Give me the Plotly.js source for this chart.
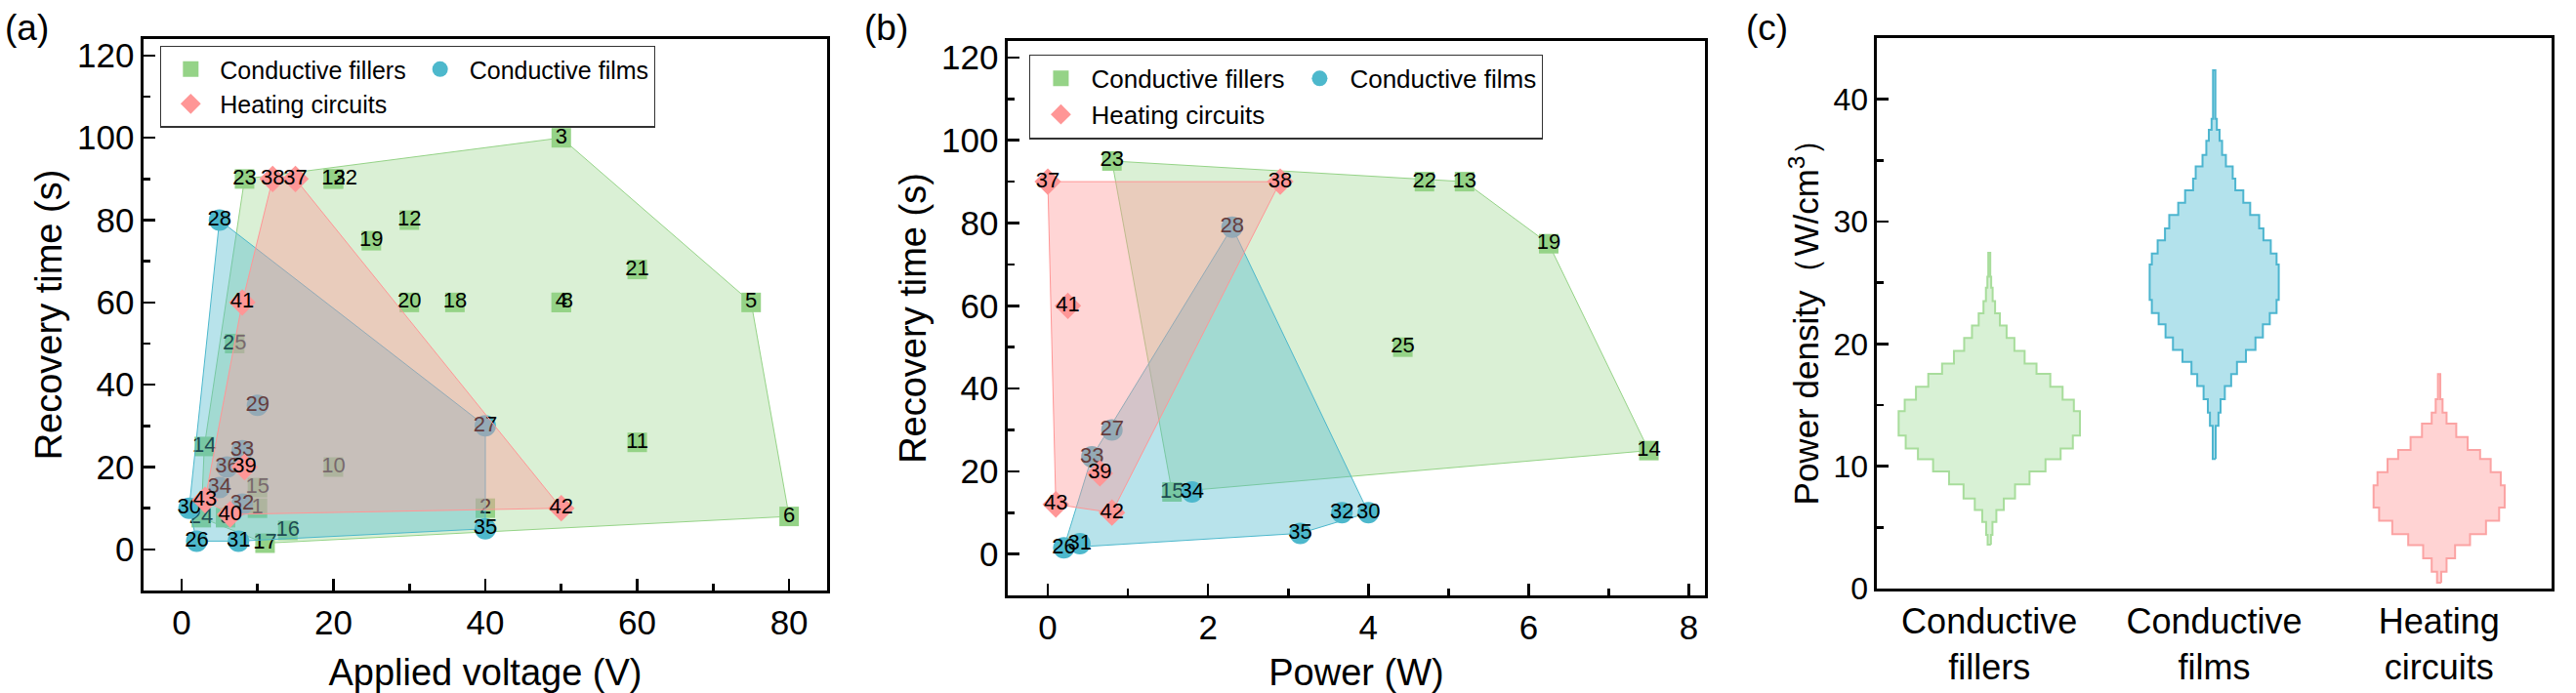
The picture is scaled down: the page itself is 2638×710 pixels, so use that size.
<!DOCTYPE html>
<html>
<head>
<meta charset="utf-8">
<script src="https://cdn.plot.ly/plotly-3.0.1.min.js"></script>
<style>
  html, body { margin: 0; padding: 0; background: #fff; }
  #wrap { position: relative; width: 2638px; height: 710px; overflow: hidden; background: #fff; }
  .panel { position: absolute; top: 0; height: 710px; }
</style>
</head>
<body>
<div id="wrap">
  <div id="pa" class="panel" style="left:0px;width:870px;"></div>
  <div id="pb" class="panel" style="left:880px;width:880px;"></div>
  <div id="pc" class="panel" style="left:1780px;width:858px;"></div>
</div>
<script>
// ---------------- DATA ----------------
// Panel (a): applied voltage (V) vs recovery time (s)
const fillerIdA   = [1, 2, 3, 4, 5, 6, 8, 9, 10, 11, 12, 13, 14, 15, 16, 17, 18, 19, 20, 21, 22, 23, 24, 25];
const fillerVoltA = [10, 40, 50, 50, 75, 80, 50, 5.8, 20, 60, 30, 20, 3, 10, 14, 11, 36, 25, 30, 60, 20, 8.3, 2.6, 7];
const fillerTimeA = [10, 10, 100, 60, 60, 8, 60, 7.7, 20, 26, 80, 90, 25, 15, 4.6, 1.5, 60, 75, 60, 68, 90, 90, 7.7, 50];
const filmIdA     = [26, 27, 28, 29, 30, 31, 32, 33, 34, 35, 36];
const filmVoltA   = [2, 40, 5, 10, 1, 7.5, 8, 8, 5, 40, 6];
const filmTimeA   = [2, 30, 80, 35, 10, 2, 11, 24, 15, 5, 20];
const circuitIdA   = [37, 38, 39, 40, 41, 42, 43];
const circuitVoltA = [15, 12, 8.3, 6.4, 8, 50, 3.1];
const circuitTimeA = [90, 90, 20, 8.5, 60, 10, 12];
// labels in (a) that sit beside a coincident point
const labelRightA = [8, 22];

// Panel (b): power (W) vs recovery time (s)
const fillerIdB   = [13, 14, 15, 19, 22, 23, 25];
const fillerPowB  = [5.2, 7.5, 1.55, 6.25, 4.7, 0.8, 4.43];
const fillerTimeB = [90, 25, 15, 75, 90, 95, 50];
const filmIdB     = [26, 27, 28, 30, 31, 32, 33, 34, 35];
const filmPowB    = [0.2, 0.8, 2.3, 4.0, 0.4, 3.67, 0.55, 1.8, 3.15];
const filmTimeB   = [1.5, 30, 79, 10, 2.5, 10, 23.5, 15, 5];
const circuitIdB   = [37, 38, 39, 41, 42, 43];
const circuitPowB  = [0, 2.9, 0.65, 0.25, 0.8, 0.1];
const circuitTimeB = [90, 90, 19.5, 60, 10, 12];
const labelRightB = [];

// Panel (c): power density (W/cm3) distributions, stepped density profiles
const violinCats = ['Conductive<br>fillers', 'Conductive<br>films', 'Heating<br>circuits'];
const fillerEdges = [3.59, 4.39, 5.45, 6.43, 7.37, 8.51, 9.58, 10.58, 11.44, 12.50, 14.50, 15.43, 16.49, 17.56, 18.40, 19.42, 20.48, 21.5, 22.5, 23.5, 24.6, 25.5, 27.45];
const fillerDens  = [0.018, 0.035, 0.078, 0.16, 0.284, 0.444, 0.62, 0.787, 0.922, 1.0, 0.933, 0.809, 0.673, 0.521, 0.39, 0.277, 0.191, 0.117, 0.064, 0.037, 0.021, 0.011];
const filmEdges = [10.59, 13.30, 14.38, 15.47, 16.55, 17.53, 18.54, 19.51, 20.52, 21.61, 22.51, 23.59, 26.48, 27.38, 28.47, 29.44, 30.53, 31.54, 32.55, 33.52, 34.5, 35.44, 36.6, 37.5, 38.4, 42.37];
const filmDens  = [0.016, 0.047, 0.070, 0.117, 0.187, 0.251, 0.35, 0.455, 0.537, 0.613, 0.688, 0.712, 0.688, 0.624, 0.543, 0.496, 0.397, 0.321, 0.233, 0.204, 0.129, 0.087, 0.059, 0.029, 0.013];
const circuitEdges = [0.48, 1.38, 2.47, 3.55, 4.45, 5.54, 6.62, 8.43, 9.51, 10.59, 11.32, 12.39, 13.48, 14.38, 15.47, 17.53];
const circuitDens  = [0.023, 0.082, 0.176, 0.341, 0.517, 0.662, 0.723, 0.68, 0.569, 0.452, 0.315, 0.189, 0.082, 0.038, 0.013];

// ---------------- STYLE ----------------
const FONT = 'Liberation Sans, Arial, Helvetica, sans-serif';
const GREEN = '#95D387', BLUE = '#4DB8CC', RED = '#FF9696';
const GREEN_F = 'rgba(149,211,135,0.35)', BLUE_F = 'rgba(77,184,204,0.40)', RED_F = 'rgba(255,150,150,0.40)';

function hull(xs, ys) {
  const pts = xs.map((x, i) => [x, ys[i]]).sort((a, b) => a[0] - b[0] || a[1] - b[1]);
  const cross = (o, a, b) => (a[0] - o[0]) * (b[1] - o[1]) - (a[1] - o[1]) * (b[0] - o[0]);
  const lower = [], upper = [];
  for (const p of pts) {
    while (lower.length >= 2 && cross(lower[lower.length - 2], lower[lower.length - 1], p) <= 0) lower.pop();
    lower.push(p);
  }
  for (let i = pts.length - 1; i >= 0; i--) {
    const p = pts[i];
    while (upper.length >= 2 && cross(upper[upper.length - 2], upper[upper.length - 1], p) <= 0) upper.pop();
    upper.push(p);
  }
  const h = lower.slice(0, -1).concat(upper.slice(0, -1));
  h.push(h[0]);
  return { x: h.map(p => p[0]), y: h.map(p => p[1]) };
}

function group(ids, xs, ys, color, fill, symbol, size, name, rightIds) {
  const h = hull(xs, ys);
  return [
    { type: 'scatter', mode: 'lines', x: h.x, y: h.y, fill: 'toself', fillcolor: fill,
      line: { color: color, width: 1 }, showlegend: false, hoverinfo: 'skip' },
    { type: 'scatter', mode: 'markers', x: xs, y: ys, name: name,
      marker: { symbol: symbol, size: size, color: color, line: { width: 0 } } },
    { type: 'scatter', mode: 'text', x: xs, y: ys, text: ids.map(String), showlegend: false,
      textposition: ids.map(id => rightIds.includes(id) ? 'middle right' : 'middle center'),
      textfont: { family: FONT, size: 22, color: 'black' }, hoverinfo: 'skip' }
  ];
}

function axis(extra) {
  return Object.assign({
    showline: true, linecolor: 'black', linewidth: 2.6, mirror: true,
    ticks: 'inside', ticklen: 12, tickwidth: 2.6, tickcolor: 'black',
    showgrid: false, zeroline: false,
    tickfont: { family: FONT, size: 35, color: 'black' }
  }, extra);
}
function minor(d) { return { ticks: 'inside', ticklen: 7, tickwidth: 2.6, tickcolor: 'black', dtick: d, showgrid: false }; }

const cfg = { displayModeBar: false, staticPlot: true };

// ---------------- PANEL (a) ----------------
const tracesA = [].concat(
  group(fillerIdA, fillerVoltA, fillerTimeA, GREEN, GREEN_F, 'square', 20, 'Conductive fillers', labelRightA),
  group(filmIdA, filmVoltA, filmTimeA, BLUE, BLUE_F, 'circle', 22, 'Conductive films', labelRightA),
  group(circuitIdA, circuitVoltA, circuitTimeA, RED, RED_F, 'diamond', 21, 'Heating circuits', labelRightA)
);
Plotly.newPlot('pa', tracesA, {
  width: 870, height: 710, margin: { l: 147, r: 23, t: 40, b: 105 },
  paper_bgcolor: 'white', plot_bgcolor: 'white',
  font: { family: FONT, color: 'black' },
  xaxis: axis({ range: [-5, 85], dtick: 20, tick0: 0, minor: minor(10),
    title: { text: 'Applied voltage (V)', font: { family: FONT, size: 38 } } }),
  yaxis: axis({ range: [-10, 124], dtick: 20, tick0: 0, minor: minor(10), automargin: true,
    title: { text: 'Recovery time (s)', font: { family: FONT, size: 38 }, standoff: 4 } }),
  legend: { orientation: 'h', x: 0.0243, y: 0.988, xanchor: 'left', yanchor: 'top',
    font: { family: FONT, size: 25, color: 'black' }, itemwidth: 50,
    bordercolor: '#333', borderwidth: 1.3, bgcolor: 'white' },
  annotations: [{ text: '(a)', xref: 'paper', yref: 'paper', x: -0.1714, y: 1.0195,
    xanchor: 'center', yanchor: 'middle', showarrow: false, font: { family: FONT, size: 37, color: 'black' } }]
}, cfg);

// ---------------- PANEL (b) ----------------
const tracesB = [].concat(
  group(fillerIdB, fillerPowB, fillerTimeB, GREEN, GREEN_F, 'square', 20, 'Conductive fillers', labelRightB),
  group(filmIdB, filmPowB, filmTimeB, BLUE, BLUE_F, 'circle', 22, 'Conductive films', labelRightB),
  group(circuitIdB, circuitPowB, circuitTimeB, RED, RED_F, 'diamond', 21, 'Heating circuits', labelRightB)
);
Plotly.newPlot('pb', tracesB, {
  width: 880, height: 710, margin: { l: 152, r: 11, t: 42, b: 100 },
  paper_bgcolor: 'white', plot_bgcolor: 'white',
  font: { family: FONT, color: 'black' },
  xaxis: axis({ range: [-0.5, 8.2], dtick: 2, tick0: 0, minor: minor(1),
    title: { text: 'Power (W)', font: { family: FONT, size: 38 } } }),
  yaxis: axis({ range: [-10, 124], dtick: 20, tick0: 0, minor: minor(10), automargin: true,
    title: { text: 'Recovery time (s)', font: { family: FONT, size: 38 }, standoff: 4 } }),
  legend: { orientation: 'h', x: 0.031, y: 0.976, xanchor: 'left', yanchor: 'top',
    font: { family: FONT, size: 26, color: 'black' }, itemwidth: 52,
    bordercolor: '#333', borderwidth: 1.3, bgcolor: 'white' },
  annotations: [{ text: '(b)', xref: 'paper', yref: 'paper', x: -0.1743, y: 1.0229,
    xanchor: 'center', yanchor: 'middle', showarrow: false, font: { family: FONT, size: 37, color: 'black' } }]
}, cfg);

// ---------------- PANEL (c) ----------------
function stepViolin(center, edges, dens, scale, line, fill) {
  const xs = [], ys = [];
  for (let i = 0; i < dens.length; i++) {
    const w = dens[i] * scale;
    xs.push(center + w, center + w); ys.push(edges[i], edges[i + 1]);
  }
  for (let i = dens.length - 1; i >= 0; i--) {
    const w = dens[i] * scale;
    xs.push(center - w, center - w); ys.push(edges[i + 1], edges[i]);
  }
  xs.push(xs[0]); ys.push(ys[0]);
  return { type: 'scatter', mode: 'lines', x: xs, y: ys, fill: 'toself', fillcolor: fill,
    line: { color: line, width: 2 }, showlegend: false, hoverinfo: 'skip' };
}
const W = 0.403;
const tracesC = [
  stepViolin(0, fillerEdges, fillerDens, W, '#A8DD9C', '#D8F1D5'),
  stepViolin(1, filmEdges, filmDens, W, '#4DB5CF', '#B3E2EC'),
  stepViolin(2, circuitEdges, circuitDens, W, '#FBA3A3', '#FFD3D3')
];
Plotly.newPlot('pc', tracesC, {
  width: 858, height: 710, margin: { l: 142, r: 25, t: 39, b: 107 },
  paper_bgcolor: 'white', plot_bgcolor: 'white',
  font: { family: FONT, color: 'black' },
  showlegend: false,
  xaxis: axis({ range: [-0.5, 2.5], tickvals: [0, 1, 2], ticktext: violinCats, ticks: '',
    tickfont: { family: FONT, size: 36, color: 'black' } }),
  yaxis: axis({ range: [0, 45], dtick: 10, tick0: 0, minor: minor(5), automargin: true,
    tickfont: { family: FONT, size: 32, color: 'black' },
    title: { text: 'Power density（W/cm<sup>3</sup>）', font: { family: FONT, size: 35 }, standoff: 4 } }),
  annotations: [{ text: '(c)', xref: 'paper', yref: 'paper', x: -0.1633, y: 1.0195,
    xanchor: 'center', yanchor: 'middle', showarrow: false, font: { family: FONT, size: 37, color: 'black' } }]
}, cfg);
</script>
</body>
</html>
